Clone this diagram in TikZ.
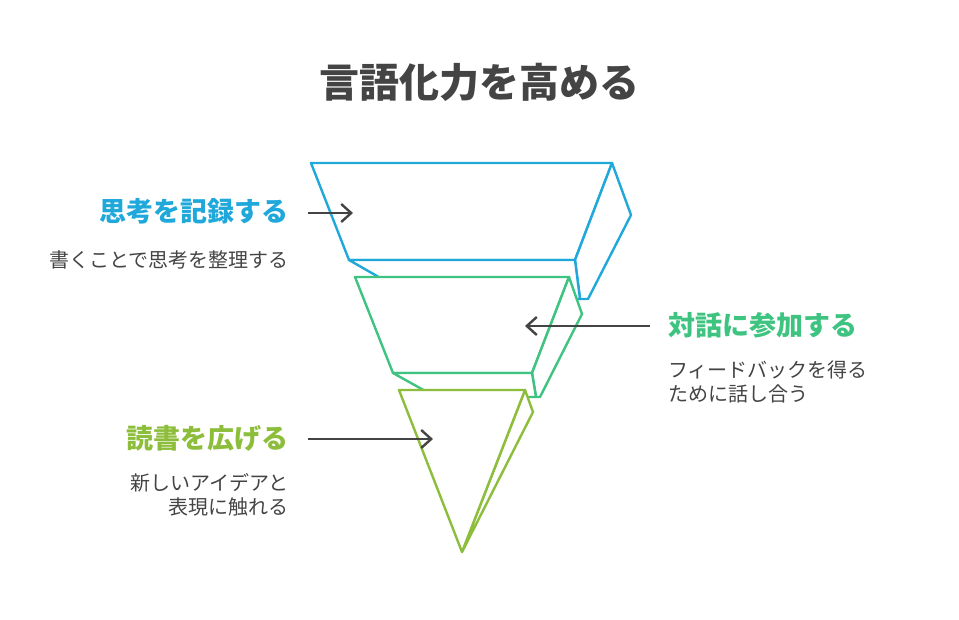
\documentclass[tikz,border=0pt]{standalone}
\usepackage{fontspec}
\usetikzlibrary{arrows.meta}
\newfontfamily\jp{Noto Sans CJK JP}
\definecolor{cblue}{HTML}{20A8DB}
\definecolor{cgreen}{HTML}{3EC480}
\definecolor{cygreen}{HTML}{8DBE3B}
\definecolor{cgray}{HTML}{444444}
\begin{document}
\begin{tikzpicture}[x=1pt,y=-1pt,
  face/.style={line width=2.4pt,line join=round,fill=white},
  pointer/.style={draw=cgray,line width=2.4pt,-{Straight Barb[length=10pt,width=18pt,line width=2.4pt]}},
  heading/.style={inner sep=0pt,font=\jp\bfseries\fontsize{27}{30}\selectfont},
  desc/.style={inner sep=0pt,text=cgray,font=\jp\fontsize{20}{24}\selectfont,align=#1},
  desc/.default=left]
\useasboundingbox (0,0) rectangle (959,619);
\node[inner sep=0pt,text=cgray,font=\jp\bfseries\fontsize{40}{44}\selectfont] (title) at (479,82) {言語化力を高める};
% blue block
\draw[face,draw=cblue] (311,163) -- (612,163) -- (575,260) -- (349,260) -- cycle;
\draw[face,draw=cblue] (612,163) -- (631,215) -- (588,299) -- (580,299) -- (575,260) -- cycle;
\draw[face,draw=cblue] (349,260) -- (575,260) -- (580,299) -- (417,299) -- cycle;
% green block
\draw[face,draw=cgreen] (355,277) -- (569,277) -- (532,373) -- (393,373) -- cycle;
\draw[face,draw=cgreen] (569,277) -- (582,314) -- (540,397) -- (536,397) -- (532,373) -- cycle;
\draw[face,draw=cgreen] (393,373) -- (532,373) -- (536,397) -- (436,397) -- cycle;
% yellow-green block
\draw[face,draw=cygreen] (525,390) -- (533,412) -- (462,552) -- cycle;
\draw[face,draw=cygreen] (399,390) -- (525,390) -- (462,552) -- cycle;
% labels
\node[heading,text=cblue,anchor=east] (h1) at (289,211) {思考を記録する};
\node[desc=right,anchor=east] (d1) at (289,260) {書くことで思考を整理する};
\node[heading,text=cgreen,anchor=west] (h2) at (668,325) {対話に参加する};
\node[desc=left,anchor=north west] (d2) at (668,361) {フィードバックを得る\\ために話し合う};
\node[desc=right,anchor=north east] (d3) at (289,473) {新しいアイデアと\\表現に触れる};
\node[heading,text=cygreen,anchor=east] (h3) at (289,438) {読書を広げる};
% arrows
\coordinate (a1s) at (308,213); \coordinate (a1e) at (353,213);
\coordinate (a2s) at (650,326); \coordinate (a2e) at (525,326);
\coordinate (a3s) at (308,439); \coordinate (a3e) at (433,439);
\draw[pointer] (a1s) -- (a1e);
\draw[pointer] (a2s) -- (a2e);
\draw[pointer] (a3s) -- (a3e);
\end{tikzpicture}
\end{document}
